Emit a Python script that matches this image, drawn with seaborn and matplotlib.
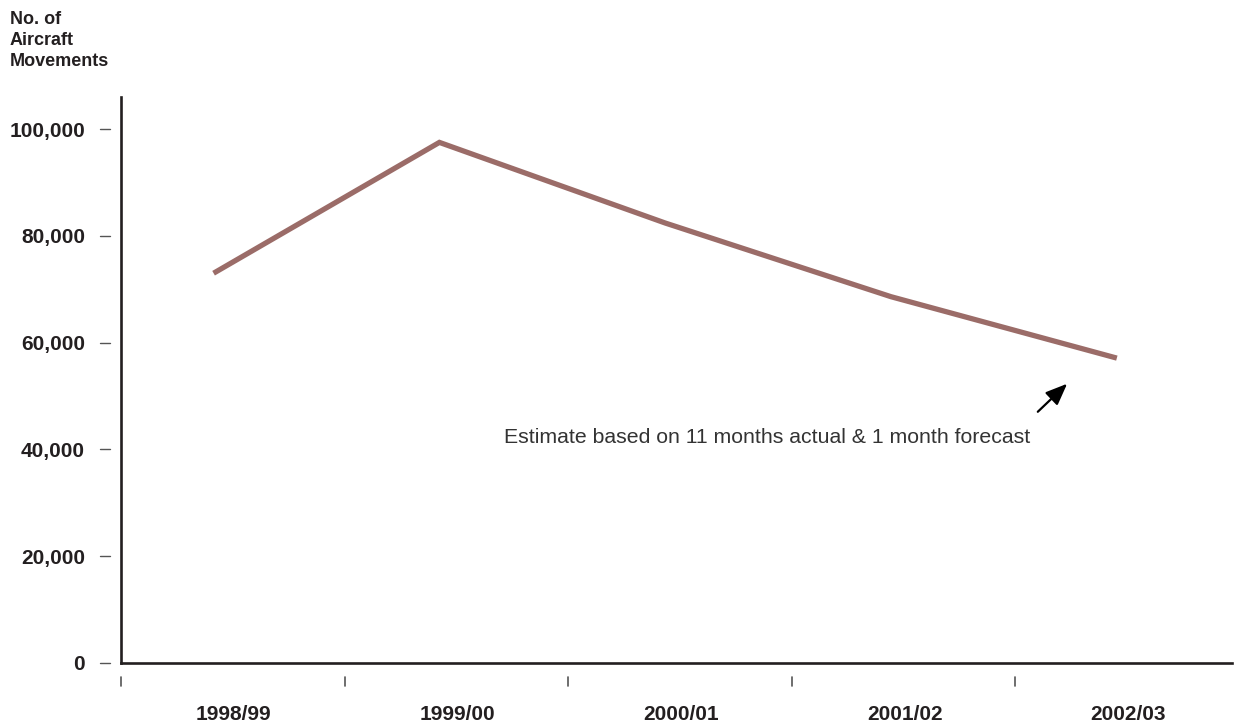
import matplotlib
matplotlib.use("Agg")
import matplotlib.pyplot as plt
import matplotlib.transforms as mtransforms
import numpy as np
import pandas as pd
import seaborn as sns

# Annual aircraft movements
years = ["1998/99", "1999/00", "2000/01", "2001/02", "2002/03"]
movements = [73000, 97500, 82400, 68600, 57100]
y_ticks = [0, 20000, 40000, 60000, 80000, 100000]
note = "Estimate based on 11 months actual & 1 month forecast"

sns.set_theme(style="white")
plt.rcParams["font.family"] = ["Liberation Sans", "DejaVu Sans"]

INK = "#231f20"
LINE = "#9b6c68"

fig = plt.figure(figsize=(12.34, 7.22), dpi=100)
ax = fig.add_axes([121 / 1234, 59 / 722, 1111 / 1234, 566 / 722])

df = pd.DataFrame({"pos": np.arange(len(years)), "movements": movements})
sns.lineplot(data=df, x="pos", y="movements", ax=ax, color=LINE,
             linewidth=3.8, solid_capstyle="butt", solid_joinstyle="miter")

ax.set_xlim(-0.41, 4.51)
ax.set_ylim(0, 106000)

# Spines
for s in ["top", "right"]:
    ax.spines[s].set_visible(False)
for s in ["left", "bottom"]:
    ax.spines[s].set_color(INK)
    ax.spines[s].set_linewidth(1.9)

# Y ticks: labels with detached dashes
ax.set_yticks(y_ticks)
ax.set_yticklabels([f"{v:,}" for v in y_ticks], fontsize=15,
                   fontweight="bold", color=INK)
ax.tick_params(axis="y", length=0, pad=26)
ytrans = mtransforms.blended_transform_factory(ax.transAxes, ax.transData)
for v in y_ticks:
    ax.plot([-0.019, -0.0095], [v, v], transform=ytrans, color="#555555",
            linewidth=1.0, clip_on=False)

# X ticks: category labels between boundary marks
pos = np.arange(len(years))
ax.set_xticks(pos * 0.99 + 0.09)
ax.set_xticklabels(years, fontsize=15, fontweight="bold", color=INK)
ax.tick_params(axis="x", length=0, pad=30)
xtrans = mtransforms.blended_transform_factory(ax.transData, ax.transAxes)
for b in pos * 0.99 - 0.41:
    ax.plot([b, b], [-0.025, -0.041], transform=xtrans, color="#555555",
            linewidth=1.2, clip_on=False)

ax.set_xlabel("")
ax.set_ylabel("")

# Axis title at top-left
fig.text(10 / 1234, 1 - 11 / 722, "No. of\nAircraft\nMovements", ha="left",
         va="top", fontsize=13, fontweight="bold", color=INK, linespacing=1.3)

# Note with arrow pointing to the final estimate
ax.annotate("", xy=(3.78, 52300), xytext=(3.65, 47050),
            arrowprops=dict(arrowstyle="-|>,head_length=1.1,head_width=0.45",
                            color="black", lw=1.6, shrinkA=0, shrinkB=0))
ax.text(3.615, 42300, note, ha="right", va="center", fontsize=15.3,
        color="#333333")

fig.savefig("out.png", dpi=100, facecolor="white")
